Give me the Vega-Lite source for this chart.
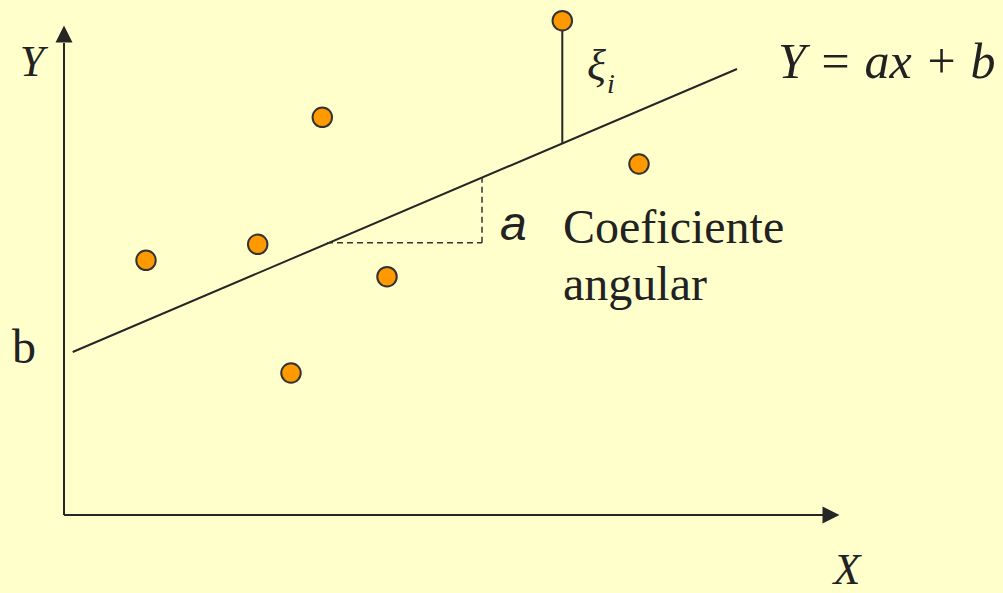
{
  "$schema": "https://vega.github.io/schema/vega-lite/v6.json",
  "width": 1003,
  "height": 593,
  "autosize": {"type": "none"},
  "padding": 0,
  "background": "#FFFFCC",
  "config": {"view": {"stroke": null}},
  "datasets": {
    "solid": [
      {"part": "y axis", "x1": 0, "y1": 0, "x2": 0, "y2": 47.2},
      {"part": "x axis", "x1": 0, "y1": 0, "x2": 76.2, "y2": 0},
      {"part": "regression", "x1": 0.87, "y1": 16.3, "x2": 67.3, "y2": 44.6},
      {"part": "residual", "x1": 49.83, "y1": 49.43, "x2": 49.83, "y2": 37.2}
    ],
    "dashed": [
      {"part": "run", "x1": 26.3, "y1": 27.23, "x2": 41.8, "y2": 27.23},
      {"part": "rise", "x1": 41.8, "y1": 27.23, "x2": 41.8, "y2": 33.74}
    ],
    "arrowUp": [{"x": 0, "y": 48.1}],
    "arrowRight": [{"x": 76.7, "y": 0}],
    "points": [
      {"x": 8.2, "y": 25.47},
      {"x": 19.37, "y": 27.07},
      {"x": 25.83, "y": 39.77},
      {"x": 32.3, "y": 23.83},
      {"x": 22.7, "y": 14.2},
      {"x": 49.83, "y": 49.43},
      {"x": 57.5, "y": 35.1}
    ],
    "italicSerif": [
      {"label": "Y", "x": -3.2, "y": 43.9},
      {"label": "X", "x": 78.3, "y": -6.9}
    ],
    "equation": [{"label": "Y = ax + b", "x": 71.4, "y": 43.7}],
    "xi": [{"label": "ξ", "x": 52.3, "y": 43.5}],
    "sub": [{"label": "i", "x": 54.3, "y": 42.2}],
    "plainSerif": [
      {"label": "b", "x": -5.2, "y": 15.2},
      {"label": "Coeficiente", "x": 49.9, "y": 27.2},
      {"label": "angular", "x": 49.9, "y": 21.5}
    ],
    "slope": [{"label": "a", "x": 43.6, "y": 27.5}]
  },
  "data": {"name": "points"},
  "layer": [
    {
      "data": {"name": "solid"},
      "mark": {"type": "rule", "color": "#262626", "strokeWidth": 2},
      "encoding": {
        "x": {"field": "x1", "type": "quantitative", "scale": {"domain": [-6.4, 93.9], "nice": false, "zero": false}, "axis": null},
        "y": {"field": "y1", "type": "quantitative", "scale": {"domain": [-7.8, 51.5], "nice": false, "zero": false}, "axis": null},
        "x2": {"field": "x2"},
        "y2": {"field": "y2"}
      }
    },
    {
      "data": {"name": "dashed"},
      "mark": {"type": "rule", "color": "#333333", "strokeWidth": 1.5, "strokeDash": [6, 4]},
      "encoding": {
        "x": {"field": "x1", "type": "quantitative"},
        "y": {"field": "y1", "type": "quantitative"},
        "x2": {"field": "x2"},
        "y2": {"field": "y2"}
      }
    },
    {
      "data": {"name": "arrowUp"},
      "mark": {"type": "point", "shape": "M0,-1L1,1L-1,1Z", "filled": true, "color": "#262626", "size": 290, "opacity": 1},
      "encoding": {
        "x": {"field": "x", "type": "quantitative"},
        "y": {"field": "y", "type": "quantitative"}
      }
    },
    {
      "data": {"name": "arrowRight"},
      "mark": {"type": "point", "shape": "M1,0L-1,-1L-1,1Z", "filled": true, "color": "#262626", "size": 290, "opacity": 1},
      "encoding": {
        "x": {"field": "x", "type": "quantitative"},
        "y": {"field": "y", "type": "quantitative"}
      }
    },
    {
      "data": {"name": "points"},
      "mark": {"type": "point", "shape": "circle", "filled": true, "fill": "#FF9900", "stroke": "#333333", "strokeWidth": 2, "size": 380, "opacity": 1, "fillOpacity": 1},
      "encoding": {
        "x": {"field": "x", "type": "quantitative"},
        "y": {"field": "y", "type": "quantitative"}
      }
    },
    {
      "data": {"name": "italicSerif"},
      "mark": {"type": "text", "font": "Liberation Serif", "fontStyle": "italic", "fontSize": 44, "align": "center", "baseline": "alphabetic", "color": "#222222"},
      "encoding": {
        "x": {"field": "x", "type": "quantitative"},
        "y": {"field": "y", "type": "quantitative"},
        "text": {"field": "label"}
      }
    },
    {
      "data": {"name": "equation"},
      "mark": {"type": "text", "font": "Liberation Serif", "fontStyle": "italic", "fontSize": 50, "align": "left", "baseline": "alphabetic", "color": "#222222"},
      "encoding": {
        "x": {"field": "x", "type": "quantitative"},
        "y": {"field": "y", "type": "quantitative"},
        "text": {"field": "label"}
      }
    },
    {
      "data": {"name": "xi"},
      "mark": {"type": "text", "font": "Liberation Serif", "fontStyle": "italic", "fontSize": 44, "align": "left", "baseline": "alphabetic", "color": "#222222"},
      "encoding": {
        "x": {"field": "x", "type": "quantitative"},
        "y": {"field": "y", "type": "quantitative"},
        "text": {"field": "label"}
      }
    },
    {
      "data": {"name": "sub"},
      "mark": {"type": "text", "font": "Liberation Serif", "fontStyle": "italic", "fontSize": 28, "align": "left", "baseline": "alphabetic", "color": "#222222"},
      "encoding": {
        "x": {"field": "x", "type": "quantitative"},
        "y": {"field": "y", "type": "quantitative"},
        "text": {"field": "label"}
      }
    },
    {
      "data": {"name": "plainSerif"},
      "mark": {"type": "text", "font": "Liberation Serif", "fontSize": 48, "align": "left", "baseline": "alphabetic", "color": "#222222"},
      "encoding": {
        "x": {"field": "x", "type": "quantitative"},
        "y": {"field": "y", "type": "quantitative"},
        "text": {"field": "label"}
      }
    },
    {
      "data": {"name": "slope"},
      "mark": {"type": "text", "font": "Liberation Sans", "fontStyle": "italic", "fontSize": 48, "align": "left", "baseline": "alphabetic", "color": "#222222"},
      "encoding": {
        "x": {"field": "x", "type": "quantitative"},
        "y": {"field": "y", "type": "quantitative"},
        "text": {"field": "label"}
      }
    }
  ]
}
